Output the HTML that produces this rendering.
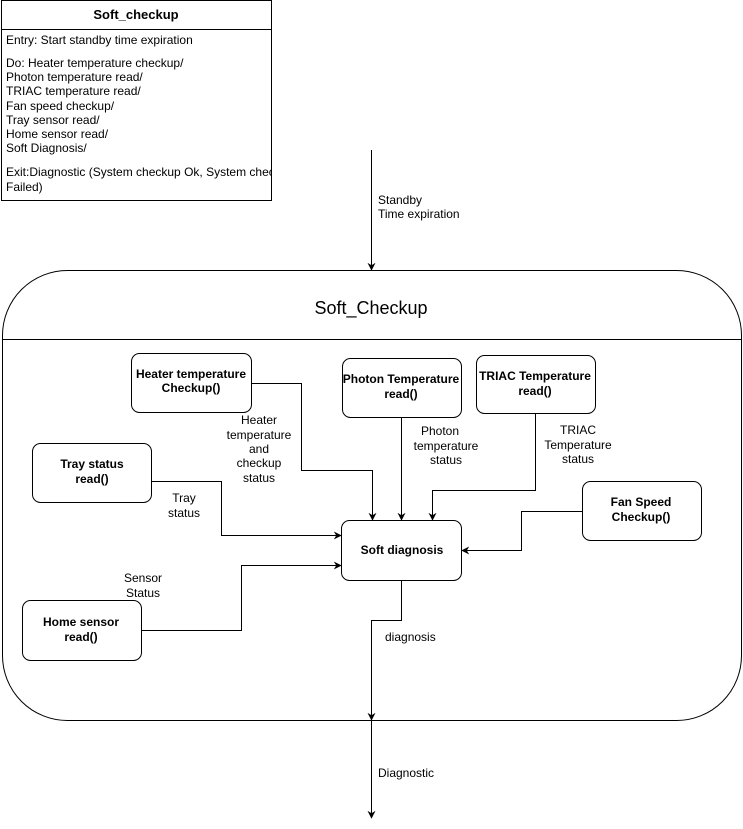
<!DOCTYPE html>
<html><head><meta charset="utf-8"><style>
html,body{margin:0;padding:0;background:#fff;}
svg{display:block;font-family:"Liberation Sans",Arial,sans-serif;}
</style></head><body>
<svg width="743" height="829" viewBox="0 0 743 829" xmlns="http://www.w3.org/2000/svg">
<defs>
<marker id="a" viewBox="0 0 10 10" refX="9" refY="5" markerWidth="8" markerHeight="8" orient="auto" markerUnits="userSpaceOnUse">
<path d="M0,0 L10,5 L0,10 L3,5 z" fill="#000"/></marker>
</defs>
<g fill="none" stroke="#000" stroke-width="1">
<rect x="1.5" y="0.5" width="270" height="200"/>
<line x1="1.5" y1="29.5" x2="271.5" y2="29.5"/>
<rect x="2.5" y="270.5" width="739" height="450" rx="65"/>
<line x1="2.5" y1="339.5" x2="741.5" y2="339.5"/>
<rect x="131.5" y="353.5" width="120" height="59" rx="8"/>
<rect x="342.5" y="358.5" width="119" height="59" rx="8"/>
<rect x="476.5" y="355.5" width="119" height="58" rx="8"/>
<rect x="32.5" y="443.5" width="119" height="59" rx="8"/>
<rect x="582.5" y="481.5" width="119" height="59" rx="8"/>
<rect x="22.5" y="600.5" width="119" height="60" rx="8"/>
<rect x="341.5" y="520.5" width="120" height="60" rx="8"/>
<polyline points="371.5,150 371.5,270" marker-end="url(#a)"/>
<polyline points="251.5,383.5 301.5,383.5 301.5,470.5 372.5,470.5 372.5,520" marker-end="url(#a)"/>
<polyline points="401.5,417.5 401.5,520" marker-end="url(#a)"/>
<polyline points="535.5,413.5 535.5,490.5 432.5,490.5 432.5,520" marker-end="url(#a)"/>
<polyline points="151.5,481.5 221.5,481.5 221.5,535.5 341,535.5" marker-end="url(#a)"/>
<polyline points="141.5,630.5 241.5,630.5 241.5,565.5 341,565.5" marker-end="url(#a)"/>
<polyline points="582.5,511.5 521.5,511.5 521.5,550.5 462,550.5" marker-end="url(#a)"/>
<polyline points="401.5,580.5 401.5,620.5 371.5,620.5 371.5,720" marker-end="url(#a)"/>
<polyline points="371.5,720.5 371.5,818" marker-end="url(#a)"/>
</g>
<g font-size="12" fill="#000">
<text x="136" y="19" font-size="13" font-weight="bold" text-anchor="middle">Soft_checkup</text>
<text x="6" y="44">Entry: Start standby time expiration</text>
<text x="6" y="67">Do: Heater temperature checkup/</text>
<text x="6" y="81">Photon temperature read/</text>
<text x="6" y="95">TRIAC temperature read/</text>
<text x="6" y="110">Fan speed checkup/</text>
<text x="6" y="124">Tray sensor read/</text>
<text x="6" y="138">Home sensor read/</text>
<text x="6" y="152">Soft Diagnosis/</text>
<svg x="0" y="0" width="271" height="200" overflow="hidden"><text x="6" y="176">Exit:Diagnostic (System checkup Ok, System checkup</text></svg>
<text x="6" y="191">Failed)</text>
<text x="371" y="314" font-size="18" text-anchor="middle">Soft_Checkup</text>
<text x="378" y="204">Standby</text>
<text x="378" y="218">Time expiration</text>
<g font-weight="bold" text-anchor="middle">
<text x="191" y="378">Heater temperature</text><text x="191" y="392">Checkup()</text>
<text x="401" y="383">Photon Temperature</text><text x="401" y="398">read()</text>
<text x="535" y="380">TRIAC Temperature</text><text x="535" y="395">read()</text>
<text x="92" y="468">Tray status</text><text x="92" y="483">read()</text>
<text x="641" y="506">Fan Speed</text><text x="641" y="521">Checkup()</text>
<text x="81" y="626">Home sensor</text><text x="81" y="641">read()</text>
<text x="402" y="554">Soft diagnosis</text>
</g>
<g text-anchor="middle">
<text x="259" y="424">Heater</text><text x="259" y="439">temperature</text><text x="259" y="453">and</text><text x="259" y="467">checkup</text><text x="259" y="482">status</text>
<text x="440" y="435">Photon</text><text x="446" y="450">temperature</text><text x="446" y="464">status</text>
<text x="578" y="434">TRIAC</text><text x="578" y="449">Temperature</text><text x="578" y="463">status</text>
<text x="184" y="502">Tray</text><text x="184" y="517">status</text>
<text x="143" y="582">Sensor</text><text x="143" y="597">Status</text>
</g>
<text x="385" y="641">diagnosis</text>
<text x="378" y="777">Diagnostic</text>
</g>
</svg>
</body></html>
